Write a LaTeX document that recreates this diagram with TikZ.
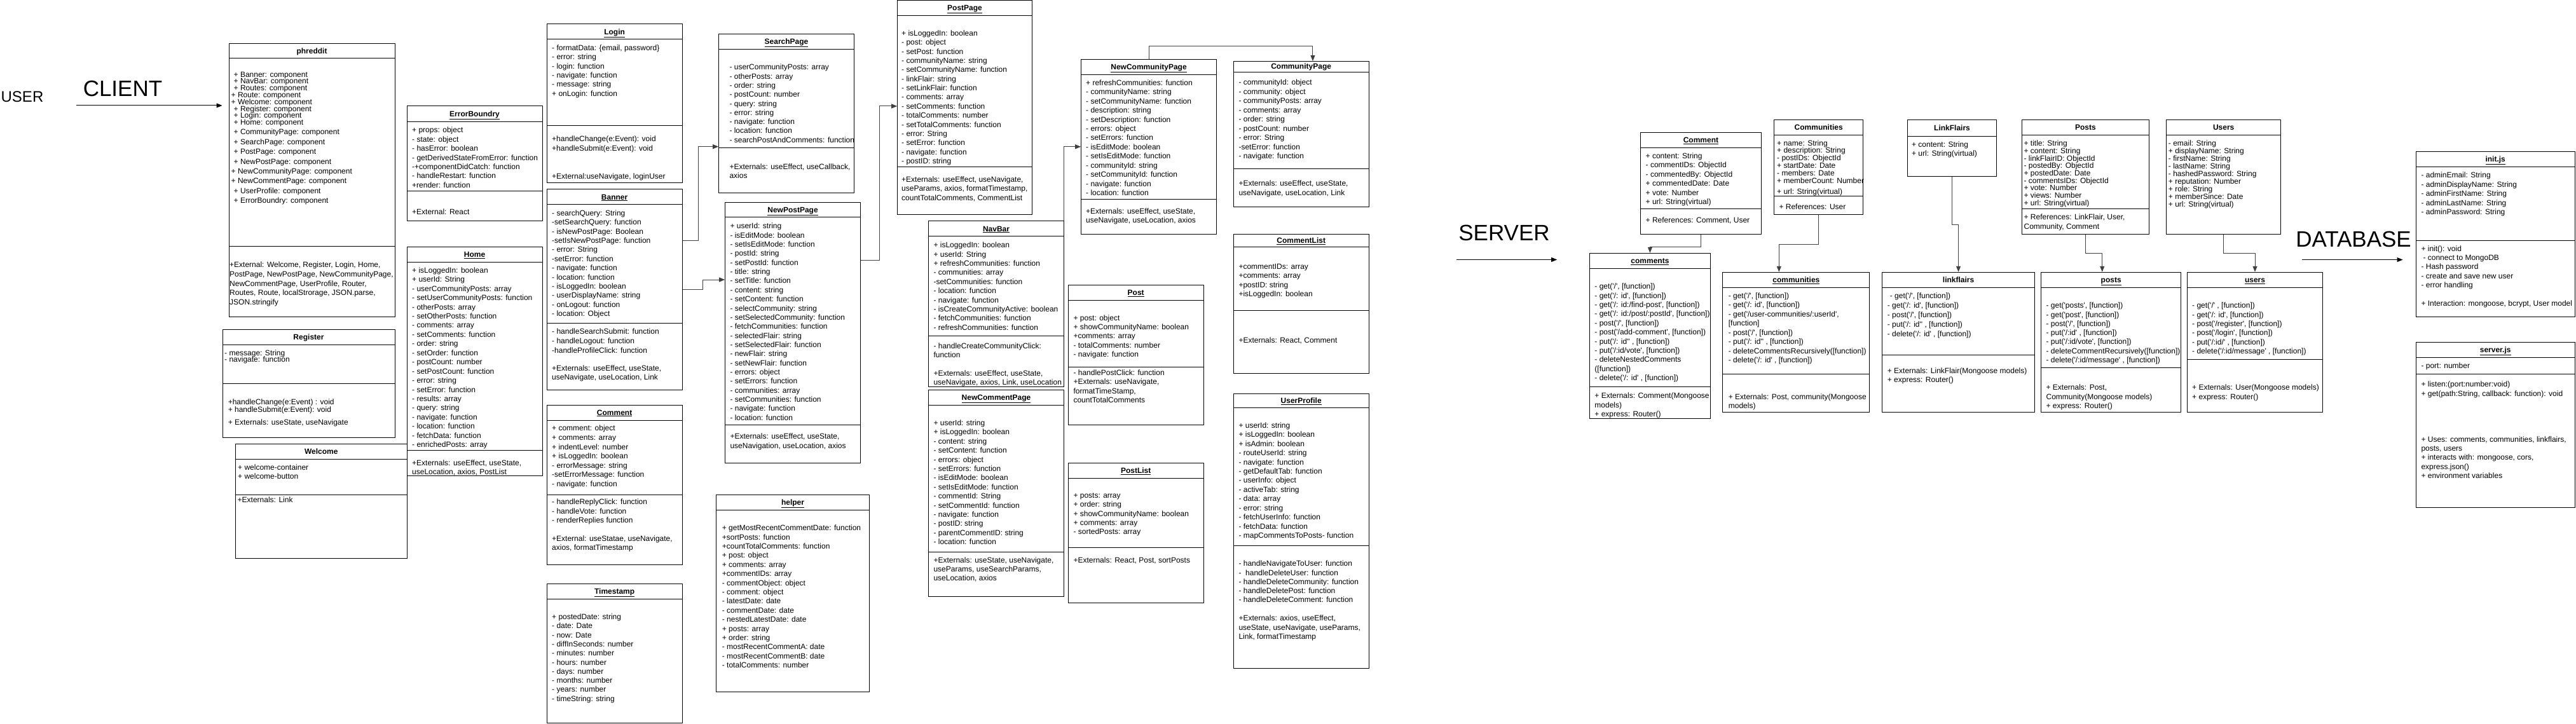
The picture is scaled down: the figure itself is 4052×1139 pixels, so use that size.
\documentclass[tikz,border=0pt]{standalone}
\usepackage{fontspec}
\setmainfont{Liberation Sans}[Ligatures=TeXOff]
\usetikzlibrary{arrows.meta,calc,fit}
\newcommand{\lsp}[1]{\fontsize{12}{#1}\selectfont\lineskiplimit=-100pt\relax}
% class box: name, x1, y1, x2, y2, title rule, title
\newcommand{\classbox}[7]{%
  \coordinate (#1-nw) at (#2,#3);
  \coordinate (#1-se) at (#4,#5);
  \node[box,fit=(#1-nw)(#1-se)] (#1) {};
  \draw[rule] (#1.west |- 0,#6) -- (#1.east |- 0,#6);
  \path (#1.north) -- (#1.north |- 0,#6) node[midway,ttl] (#1-t) {#7};
}
\begin{document}
\begin{tikzpicture}[x=1pt,y=-1pt,
  box/.style={draw,line width=1pt,fill=white,inner sep=0pt},
  rule/.style={line width=1pt},
  ttl/.style={inner sep=0pt,font=\bfseries\lsp{14},text height=8.6pt,text depth=0pt},
  txt/.style={anchor=north west,inner sep=0pt,align=left,font=\lsp{14.4}},
  head/.style={inner sep=0pt,font=\fontsize{35}{40}\selectfont},
  flow/.style={-{Triangle[length=9pt,width=7pt]},line width=1pt},
  conn/.style={-{Triangle[length=9pt,width=7pt]},line width=1pt,black!75}]
\useasboundingbox (0,0) rectangle (4052,1139);

% headings
\node[head,font=\fontsize{24}{28}\selectfont] (user) at (35,152) {USER};
\node[head] (client) at (193,139) {CLIENT};
\node[head] (server) at (2366,366) {SERVER};
\node[head] (database) at (3702,376) {DATABASE};

% client
\classbox{phreddit}{360}{68.5}{621}{498}{92}{phreddit}
\classbox{errb}{640}{167}{853}{348}{192}{\underline{ErrorBoundry}}
\classbox{register}{350}{518}{621}{688}{542}{Register}
\classbox{home}{640}{388}{853}{748.5}{412.6}{\underline{Home}}
\classbox{welcome}{370}{698.5}{640.6}{878}{722.6}{Welcome}
\classbox{login}{860}{38}{1073.3}{288}{62}{\underline{Login}}
\classbox{banner}{860}{298}{1073.3}{613}{322}{\underline{Banner}}
\classbox{comment}{860}{637}{1073.3}{888}{661}{\underline{Comment}}
\classbox{timestamp}{860}{918}{1073.3}{1137}{942}{\underline{Timestamp}}
\classbox{search}{1130.7}{53.6}{1343.3}{303.8}{77.7}{\underline{SearchPage}}
\classbox{newpost}{1140.7}{319}{1353.3}{728.3}{342}{\underline{NewPostPage}}
\classbox{helper}{1126.7}{778}{1367.3}{1088}{802.7}{\underline{helper}}
\classbox{postpage}{1411.7}{0.8}{1623.3}{338}{24.5}{\underline{PostPage}}
\classbox{navbar}{1460.7}{348}{1673.3}{608.3}{372}{\underline{NavBar}}
\classbox{newcomment}{1460.7}{613.3}{1673.3}{938.3}{637.3}{\underline{NewCommentPage}}
\classbox{newcomm}{1700.7}{93.8}{1913.3}{368.2}{117.5}{\underline{NewCommunityPage}}
\classbox{post}{1680}{448.5}{1893.3}{668.3}{472.6}{\underline{Post}}
\classbox{postlist}{1680}{728.3}{1893.3}{948.3}{752.3}{\underline{PostList}}
\classbox{commpage}{1940}{96.6}{2153.3}{325.4}{113.2}{\underline{CommunityPage}}
\classbox{commlist}{1940}{368.5}{2153.3}{587}{388.4}{\underline{CommentList}}
\classbox{profile}{1940}{619}{2153.3}{1051.5}{641.7}{\underline{UserProfile}}

% server and database
\classbox{mcomment}{2580.2}{208.5}{2770.6}{368.2}{232.2}{\underline{Comment}}
\classbox{rcomments}{2500.4}{398.3}{2690.4}{658.5}{422.4}{\underline{comments}}
\classbox{mcommunity}{2790.7}{188.4}{2930.7}{338}{212.5}{Communities}
\classbox{rcommunities}{2709.9}{428.3}{2940.7}{648.7}{452.2}{\underline{communities}}
\classbox{mlinkflair}{3000.7}{188.7}{3140.3}{278}{214.4}{LinkFlairs}
\classbox{rlinkflairs}{2960.5}{428.3}{3200.6}{648.6}{452}{linkflairs}
\classbox{mpost}{3180.5}{188.7}{3380.4}{368.2}{212.4}{Posts}
\classbox{rposts}{3210.7}{428.3}{3430.7}{648.6}{452}{\underline{posts}}
\classbox{muser}{3407.7}{188.7}{3587.6}{368.2}{212.4}{Users}
\classbox{rusers}{3440.7}{428.3}{3653.3}{648.4}{452}{\underline{users}}
\classbox{initjs}{3800.3}{238.4}{4050}{498.4}{262.4}{\underline{init.js}}
\classbox{serverjs}{3800.3}{538.4}{4050}{798.4}{562.4}{\underline{server.js}}

% section rules
\foreach \n/\y in {phreddit/387,errb/301,register/603,home/708,welcome/778,
  login/198,banner/508.6,comment/778.4,search/233,newpost/668,postpage/263,
  navbar/528,newcomment/868.3,newcomm/313.8,post/577.9,postlist/861.7,
  commpage/265.7,commlist/488.5,profile/858,mcomment/328.7,rcomments/608.2,
  mcommunity/308.6,rcommunities/588,rlinkflairs/558.4,mpost/328.7,
  rposts/578.6,rusers/565.6,initjs/378.8,serverjs/588.2}
  \draw[rule] (\n.west |- 0,\y) -- (\n.east |- 0,\y);

% client texts
\node[txt,font=\lsp{10.8}] (phreddit-a) at (367.5,112.6) {+ Banner: component\\+ NavBar: component\\+ Routes: component\\\hspace*{-4pt}+ Route: component\\\hspace*{-4pt}+ Welcome: component\\+ Register:  component\\+ Login:  component\\+ Home:  component};
\node[txt,font=\lsp{15.4}] (phreddit-b) at (367.5,203) {+ CommunityPage:  component\\+ SearchPage:  component\\+ PostPage:  component\\+ NewPostPage:  component\\\hspace*{-4pt}+ NewCommunityPage:  component\\\hspace*{-4pt}+ NewCommentPage:  component\\+ UserProfile:  component\\+ ErrorBoundry:  component};
\node[txt,font=\lsp{14.7}] (phreddit-x) at (361,412) {+External: Welcome, Register, Login, Home,\\PostPage, NewPostPage, NewCommunityPage,\\NewCommentPage, UserProfile, Router,\\Routes, Route, localStrorage, JSON.parse,\\JSON.stringify};

\node[txt] (errb-a) at (648,200) {+ props: object\\- state: object\\- hasError: boolean\\- getDerivedStateFromError: function\\-+componentDidCatch: function\\- handleRestart: function\\+render: function};
\node[txt] (errb-x) at (648,329) {+External: React};

\node[txt,font=\lsp{10.5}] (register-a) at (353,550.5) {- message: String\\- navigate: function};
\node[txt,font=\lsp{12}] (register-m) at (358.6,628) {+handleChange(e:Event) : void\\+ handleSubmit(e:Event): void};
\node[txt] (register-x) at (358.6,660) {+ Externals: useState, useNavigate};

\node[txt,font=\lsp{13.5}] (welcome-a) at (374,731) {+ welcome-container\\+ welcome-button};
\node[txt] (welcome-x) at (373.5,782) {+Externals: Link};

\node[txt,font=\lsp{14.44}] (home-a) at (648,420.4) {+ isLoggedIn: boolean\\+ userId: String\\- userCommunityPosts: array\\- setUserCommunityPosts: function\\- otherPosts: array\\- setOtherPosts: function\\- comments: array\\- setComments: function\\- order: string\\- setOrder: function\\- postCount: number\\- setPostCount: function\\- error: string\\- setError: function\\- results: array\\- query: string\\- navigate: function\\- location: function\\- fetchData: function\\- enrichedPosts: array};
\node[txt,font=\lsp{13.7}] (home-x) at (648,723.6) {+Externals: useEffect, useState,\\useLocation, axios, PostList};

\node[txt] (login-a) at (868,70.5) {- formatData: \{email, password\}\\- error: string\\- login: function\\- navigate: function\\- message: string\\+ onLogin: function};
\node[txt,font=\lsp{15}] (login-m) at (868,214) {+handleChange(e:Event): void\\+handleSubmit(e:Event): void};
\node[txt] (login-x) at (868,272.5) {+External:useNavigate, loginUser};

\node[txt] (banner-a) at (868,330.5) {- searchQuery: String\\-setSearchQuery: function\\- isNewPostPage: Boolean\\-setIsNewPostPage: function\\- error: String\\-setError: function\\- navigate: function\\- location: function\\- isLoggedIn: boolean\\- userDisplayName: string\\- onLogout: function\\- location: Object};
\node[txt,font=\lsp{14.7}] (banner-m) at (868,517) {- handleSearchSubmit: function\\- handleLogout: function\\-handleProfileClick: function};
\node[txt,font=\lsp{14}] (banner-x) at (868,575) {+Externals: useEffect, useState,\\useNavigate, useLocation, Link};

\node[txt,font=\lsp{14.6}] (comment-a) at (868,669) {+ comment: object\\+ comments: array\\+ indentLevel: number\\+ isLoggedIn: boolean\\- errorMessage: string\\-setErrorMessage: function\\- navigate: function};
\node[txt,font=\lsp{14.3}] (comment-m) at (868,785) {- handleReplyClick: function\\- handleVote: function\\- renderReplies function};
\node[txt,font=\lsp{14.1}] (comment-x) at (868,842.5) {+External: useStatae, useNavigate,\\axios, formatTimestamp};

\node[txt,font=\lsp{14.3}] (timestamp-a) at (868,965.6) {+ postedDate: string\\- date: Date\\- now: Date\\- diffInSeconds: number\\- minutes: number\\- hours: number\\- days: number\\- months: number\\- years: number\\- timeString: string};

\node[txt,font=\lsp{14.3}] (search-a) at (1147.3,101) {- userCommunityPosts: array\\- otherPosts: array\\- order: string\\- postCount: number\\- query: string\\- error: string\\- navigate: function\\- location: function\\- searchPostAndComments: function};
\node[txt,font=\lsp{14}] (search-x) at (1147.3,258) {+Externals: useEffect, useCallback,\\axios};

\node[txt,font=\lsp{14.35}] (newpost-a) at (1148.3,351) {+ userId: string\\- isEditMode: boolean\\- setIsEditMode: function\\- postId: string\\- setPostId: function\\- title: string\\- setTitle: function\\- content: string\\- setContent: function\\- selectCommunity: string\\- setSelectedCommunity: function\\- fetchCommunities: function\\- selectedFlair: string\\- setSelectedFlair: function\\- newFlair: string\\- setNewFlair: function\\- errors: object\\- setErrors: function\\- communities: array\\- setCommunities: function\\- navigate: function\\- location: function};
\node[txt,font=\lsp{15}] (newpost-x) at (1148.3,681.7) {+Externals: useEffect, useState,\\useNavigation, useLocation, axios};

\node[txt] (helper-a) at (1135.7,825.7) {+ getMostRecentCommentDate: function\\+sortPosts: function\\+countTotalComments: function\\+ post: object\\+ comments: array\\+commentIDs: array\\- commentObject: object\\- comment: object\\- latestDate: date\\- commentDate: date\\- nestedLatestDate: date\\+ posts: array\\+ order: string\\- mostRecentCommentA: date\\- mostRecentCommentB: date\\- totalComments: number};

\node[txt,font=\lsp{14.38}] (postpage-a) at (1418,47.4) {+ isLoggedIn: boolean\\- post: object\\- setPost: function\\- communityName: string\\- setCommunityName: function\\- linkFlair: string\\- setLinkFlair: function\\- comments: array\\- setComments: function\\- totalComments: number\\- setTotalComments: function\\- error: String\\- setError: function\\- navigate: function\\- postID: string};
\node[txt,font=\lsp{14.5}] (postpage-x) at (1418,277.4) {+Externals: useEffect, useNavigate,\\useParams, axios, formatTimestamp,\\countTotalComments, CommentList};

\node[txt] (navbar-a) at (1468.3,380.8) {+ isLoggedIn: boolean\\+ userId: String\\+ refreshCommunities: function\\- communities: array\\-setCommunities: function\\- location: function\\- navigate: function\\- isCreateCommunityActive: boolean\\- fetchCommunities: function\\- refreshCommunities: function};
\node[txt,font=\lsp{14.2}] (navbar-m) at (1468.3,539.2) {- handleCreateCommunityClick:\\function};
\node[txt,font=\lsp{14.2}] (navbar-x) at (1468.3,582.5) {+Externals: useEffect, useState,\\useNavigate, axios, Link, useLocation};

\node[txt,font=\lsp{14.38}] (newcomment-a) at (1468.3,660.7) {+ userId: string\\+ isLoggedIn: boolean\\- content: string\\- setContent: function\\- errors: object\\- setErrors: function\\- isEditMode: boolean\\- setIsEditMode: function\\- commentId: String\\- setCommentId: function\\- navigate: function\\- postID: string\\- parentCommentID: string\\- location: function};
\node[txt,font=\lsp{14}] (newcomment-x) at (1468.3,876.7) {+Externals: useState, useNavigate,\\useParams, useSearchParams,\\useLocation, axios};

\node[txt,font=\lsp{14.42}] (newcomm-a) at (1708,125.5) {+ refreshCommunities: function\\- communityName: string\\- setCommunityName: function\\- description: string\\- setDescription: function\\- errors: object\\- setErrors: function\\- isEditMode: boolean\\- setIsEditMode: function\\- communityId: string\\- setCommunityId: function\\- navigate: function\\- location: function};
\node[txt,font=\lsp{14.5}] (newcomm-x) at (1708,327.2) {+Externals: useEffect, useState,\\useNavigate, useLocation, axios};

\node[txt,font=\lsp{14.25}] (post-a) at (1688.3,495.6) {+ post: object\\+ showCommunityName: boolean\\+comments: array\\- totalComments: number\\- navigate: function};
\node[txt,font=\lsp{14.3}] (post-m) at (1688.3,581.7) {- handlePostClick: function\\+Externals: useNavigate,\\formatTimeStamp,\\countTotalComments};

\node[txt,font=\lsp{14.25}] (postlist-a) at (1688.3,775.7) {+ posts: array\\+ order: string\\+ showCommunityName: boolean\\+ comments: array\\- sortedPosts: array};
\node[txt] (postlist-x) at (1688.3,876.7) {+Externals: React, Post, sortPosts};

\node[txt,font=\lsp{14.5}] (commpage-a) at (1948.3,124.7) {- communityId: object\\- community: object\\- communityPosts: array\\- comments: array\\- order: string\\- postCount: number\\- error: String\\-setError: function\\- navigate: function};
\node[txt,font=\lsp{14.5}] (commpage-x) at (1948.3,284) {+Externals: useEffect, useState,\\useNavigate, useLocation, Link};

\node[txt] (commlist-a) at (1948.3,415) {+commentIDs: array\\+comments: array\\+postID: string\\+isLoggedIn: boolean};
\node[txt] (commlist-x) at (1948.3,530.6) {+Externals: React, Comment};

\node[txt,font=\lsp{14.42}] (profile-a) at (1948.3,664.5) {+ userId: string\\+ isLoggedIn: boolean\\+ isAdmin: boolean\\- routeUserId: string\\- navigate: function\\- getDefaultTab: function\\- userInfo: object\\- activeTab: string\\- data: array\\- error: string\\- fetchUserInfo: function\\- fetchData: function\\- mapCommentsToPosts- function};
\node[txt,font=\lsp{14.1}] (profile-m) at (1948.3,882) {- handleNavigateToUser: function\\- \ handleDeleteUser: function\\- handleDeleteCommunity: function\\- handleDeletePost: function\\- handleDeleteComment: function};
\node[txt,font=\lsp{14.55}] (profile-x) at (1948.3,967.6) {+Externals: axios, useEffect,\\useState, useNavigate, useParams,\\Link, formatTimestamp};

% server texts
\node[txt,font=\lsp{14.5}] (mcomment-a) at (2588.5,240.2) {+ content: String\\- commentIDs: ObjectId\\- commentedBy: ObjectId\\+ commentedDate: Date\\+ vote: Number\\+ url: String(virtual)};
\node[txt] (mcomment-x) at (2588.5,341.5) {+ References: Comment, User};

\node[txt,font=\lsp{14.39}] (rcomments-a) at (2508.2,445.9) {- get('/', [function])\\- get('/: id', [function])\\- get('/: id:/find-post', [function])\\- get('/: id:/post/:postId', [function])\\- post('/', [function])\\- post('/add-comment', [function])\\- put('/: id'' , [function])\\- put('/:id/vote', [function])\\- deleteNestedComments\\([function])\\- delete('/: id' , [function])};
\node[txt] (rcomments-x) at (2508.2,617.9) {+ Externals: Comment(Mongoose\\models)\\+ express: Router()};

\node[txt,font=\lsp{11.9}] (mcommunity-a) at (2795,220.2) {+ name: String\\+ description: String\\- postIDs: ObjectId\\+ startDate: Date\\- members: Date\\+ memberCount: Number};
\node[txt] (mcommunity-u) at (2795,296.7) {+ url: String(virtual)};
\node[txt] (mcommunity-x) at (2798.3,320.4) {+ References: User};

\node[txt,font=\lsp{14.45}] (rcommunities-a) at (2718.6,460.5) {- get('/', [function])\\- get('/: id', [function])\\- get('/user-communities/:userId',\\{}[function]\\- post('/', [function])\\- put('/: id'' , [function])\\- deleteCommentsRecursively([function])\\- delete('/: id' , [function])};
\node[txt,font=\lsp{13.9}] (rcommunities-x) at (2718.6,619.8) {+ Externals: Post, community(Mongoose\\models)};

\node[txt,font=\lsp{14.2}] (mlinkflair-a) at (3006.9,222.8) {+ content: String\\+ url: String(virtual)};

\node[txt,font=\lsp{15}] (rlinkflairs-a) at (2968.6,460.5) {\hspace*{4pt}- get('/', [function])\\- get('/: id', [function])\\- post('/', [function])\\- put('/: id'' , [function])\\- delete('/: id' , [function])};
\node[txt,font=\lsp{14.3}] (rlinkflairs-x) at (2968.6,578.7) {+ Externals: LinkFlair(Mongoose models)\\+ express: Router()};

\node[txt,font=\lsp{11.7}] (mpost-a) at (3183.4,220.9) {+ title: String\\+ content: String\\- linkFlairID: ObjectId\\- postedBy: ObjectId\\+ postedDate: Date\\- commentsIDs: ObjectId\\+ vote: Number\\+ views: Number\\+ url: String(virtual)};
\node[txt,font=\lsp{15}] (mpost-x) at (3183.4,336.7) {+ References: LinkFlair, User,\\Community, Comment};

\node[txt,font=\lsp{14.3}] (rposts-a) at (3218.4,475.9) {- get('posts', [function])\\- get('post', [function])\\- post('/', [function])\\- put('/:id' , [function])\\- put('/:id/vote', [function])\\- deleteCommentRecursively([function])\\- delete('/:id/message' , [function])};
\node[txt,font=\lsp{14.45}] (rposts-x) at (3218.4,604.8) {+ Externals: Post,\\Community(Mongoose models)\\+ express: Router()};

\node[txt,font=\lsp{12}] (muser-a) at (3410.7,220.9) {- email: String\\+ displayName: String\\- firstName: String\\- lastName: String\\- hashedPassword: String\\+ reputation: Number\\+ role: String\\+ memberSince: Date\\+ url: String(virtual)};

\node[txt] (rusers-a) at (3448,475.9) {- get('/' , [function])\\- get('/: id', [function])\\- post('/register', [function])\\- post('/login', [function])\\- put('/:id/' , [function])\\- delete('/:id/message' , [function])};
\node[txt,font=\lsp{15}] (rusers-x) at (3448,604.8) {+ Externals: User(Mongoose models)\\+ express: Router()};

% database texts
\node[txt,font=\lsp{14.5}] (initjs-a) at (3808.3,270.9) {- adminEmail: String\\- adminDisplayName: String\\- adminFirstName: String\\- adminLastName: String\\- adminPassword: String};
\node[txt,font=\lsp{14.3}] (initjs-m) at (3808.3,386.4) {+ init(): void\\\hspace*{3pt}- connect to MongoDB\\- Hash password\\- create and save new user\\- error handling};
\node[txt] (initjs-x) at (3808.3,472.6) {+ Interaction: mongoose, bcrypt, User model};

\node[txt] (serverjs-a) at (3808.3,570.5) {- port: number};
\node[txt,font=\lsp{15.1}] (serverjs-m) at (3808.3,599.5) {+ listen:(port:number:void)\\+ get(path:String, callback: function): void};
\node[txt,font=\lsp{14.3}] (serverjs-x) at (3808.3,686.4) {+ Uses: comments, communities, linkflairs,\\posts, users\\+ interacts with: mongoose, cors,\\express.json()\\+ environment variables};

% layer arrows
\coordinate (client-a) at (120,166);
\coordinate (server-a) at (2290.5,408.5);
\coordinate (database-a) at (3620.7,408.6);
\draw[flow,shorten >=10pt] (client-a) -- (phreddit.west |- client-a);
\draw[flow,shorten >=50.7pt] (server-a) -- (rcomments.west |- server-a);
\draw[flow,shorten >=20.3pt] (database-a) -- (initjs.west |- database-a);

% connectors
\draw[conn] (banner.east |- 0,378) -- ++(24.7,0) |- (search.west |- 0,230.7);
\draw[conn] (banner.east |- 0,455) -- ++(31.7,0) |- (newpost.west |- 0,440);
\draw[conn] (newpost.east |- 0,409.6) -- ++(29.7,0) |- (postpage.west |- 0,167);
\draw[conn] (navbar.north east) |- (newcomm.west |- 0,230.8);
\draw[conn] (newcomm.north) -- ++(0,-21.1) -| ([xshift=18.3pt]commpage.north);
\draw[conn] (mcomment.south) -- ++(0,20) -| (rcomments.north);
\draw[conn] (mcommunity.south) -- ++(0,45.6) -| ([xshift=-27pt]rcommunities.north);
\draw[conn] (mlinkflair.south) -- ++(0,75.2) -| (rlinkflairs.north);
\draw[conn] (mpost.south) -- ++(0,29.7) -| ([xshift=-14pt]rposts.north);
\draw[conn] (muser.south) -- ++(0,29.7) -| (rusers.north);
\end{tikzpicture}
\end{document}
